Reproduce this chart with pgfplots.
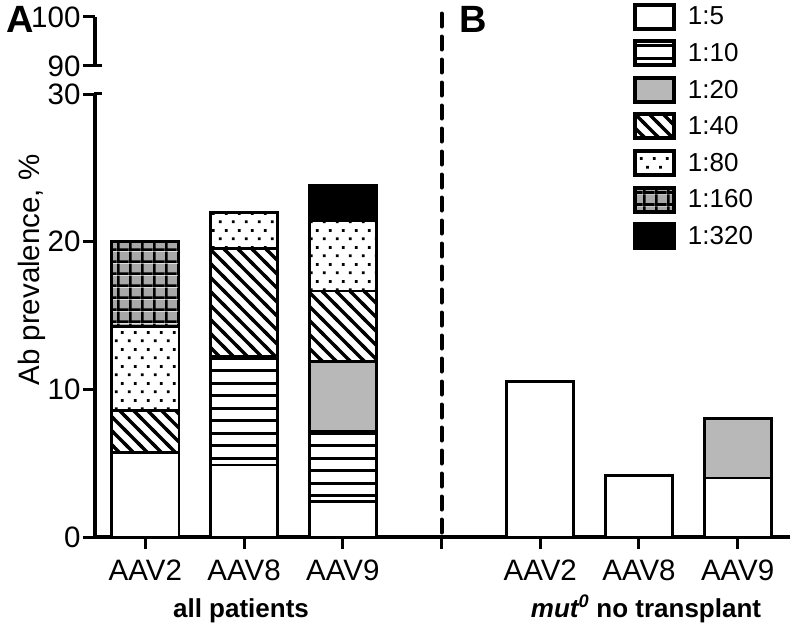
\documentclass[border=0pt]{standalone}
\usepackage{fontspec}
\setmainfont{Liberation Sans}
\usepackage{pgfplots}
\pgfplotsset{compat=1.18}
\usetikzlibrary{patterns}

\definecolor{lgray}{HTML}{B8B8B8}
\definecolor{ggray}{HTML}{A8A8A8}

% big hatch patterns, sizes in pt (1pt ~ 1px of the reference)
\pgfdeclarepatternformonly{hl}{\pgfpoint{-1pt}{0pt}}{\pgfpoint{13.5pt}{12.5pt}}{\pgfpoint{12.5pt}{12.5pt}}{%
  \pgfsetlinewidth{2.8pt}%
  \pgfpathmoveto{\pgfpoint{-1pt}{6.25pt}}\pgfpathlineto{\pgfpoint{13.5pt}{6.25pt}}\pgfusepath{stroke}}
\pgfdeclarepatternformonly{dl}{\pgfpoint{-1pt}{-1pt}}{\pgfpoint{15pt}{15pt}}{\pgfpoint{14pt}{14pt}}{%
  \pgfsetlinewidth{3.4pt}%
  \pgfpathmoveto{\pgfpoint{0pt}{14pt}}\pgfpathlineto{\pgfpoint{14pt}{0pt}}%
  \pgfpathmoveto{\pgfpoint{-2pt}{2pt}}\pgfpathlineto{\pgfpoint{2pt}{-2pt}}%
  \pgfpathmoveto{\pgfpoint{12pt}{16pt}}\pgfpathlineto{\pgfpoint{16pt}{12pt}}%
  \pgfusepath{stroke}}
\pgfdeclarepatternformonly{dt}{\pgfpointorigin}{\pgfpoint{12.5pt}{16.6pt}}{\pgfpoint{12.5pt}{16.6pt}}{%
  \pgfpathrectangle{\pgfpoint{2pt}{2pt}}{\pgfpoint{2.8pt}{2.8pt}}%
  \pgfpathrectangle{\pgfpoint{8.25pt}{10.3pt}}{\pgfpoint{2.8pt}{2.8pt}}%
  \pgfusepath{fill}}
\pgfdeclarepatterninherentlycolored{gr}{\pgfpointorigin}{\pgfpoint{11.7pt}{11.7pt}}{\pgfpoint{11.7pt}{11.7pt}}{%
  \pgfsetfillcolor{ggray}%
  \pgfpathrectangle{\pgfpointorigin}{\pgfpoint{11.7pt}{11.7pt}}\pgfusepath{fill}%
  \pgfsetfillcolor{black}%
  \pgfpathrectangle{\pgfpointorigin}{\pgfpoint{2.8pt}{11.7pt}}%
  \pgfpathrectangle{\pgfpointorigin}{\pgfpoint{11.7pt}{2.8pt}}%
  \pgfusepath{fill}}

\begin{document}
\begin{tikzpicture}
\pgfplotsset{
  brk/.style={
    width=695pt, scale only axis, xmin=-0.51, xmax=6.53,
    axis line style={line width=3.3pt},
    major tick length=12pt, tick align=outside,
    major tick style={line width=3pt,black},
    tick label style={font=\fontsize{29.5}{32}\selectfont},
    yticklabel style={xshift=1pt},
    /pgf/number format/assume math mode=true,
  },
  bs/.style={draw=black, line width=2.8pt},
}

% upper piece of the broken y axis
\begin{axis}[brk, at={(0pt,471pt)}, height=49pt,
  ymin=90, ymax=100, ytick={90,100},
  axis y line*=left, axis x line=none]
\addplot[draw=none] coordinates {(0,95)};
\end{axis}

% lower piece with the bars
\begin{axis}[brk, height=443pt,
  ymin=0, ymax=30, ytick={0,10,20,30},
  axis x line*=bottom, axis y line*=left,
  xtick={0,1,2,3,4,5,6},
  xticklabels={AAV2,AAV8,AAV9,,AAV2,AAV8,AAV9},
  xticklabel style={yshift=-7pt},
  ybar stacked, bar width=0.68, clip=false,
  legend image code/.code={\draw[#1, line width=4pt] (1pt,-12pt) rectangle (40pt,12pt);},
  legend style={at={(axis description cs:0.774,1.2065)}, anchor=north west,
    draw=none, fill=none, inner sep=0pt, outer sep=0pt,
    row sep=8.6pt, column sep=12pt,
    nodes={inner xsep=0pt, inner ysep=0pt},
    font=\fontsize{26}{30}\selectfont},
  legend cell align=left]
\addplot[bs, fill=white] coordinates {(0,5.71) (1,4.88) (2,2.38) (4,10.53) (5,4.15) (6,4.0)};
\addlegendentry{1:5}
\addplot[bs, fill=white, pattern=hl] coordinates {(0,0) (1,7.32) (2,4.76) (4,0) (5,0) (6,0)};
\addlegendentry{1:10}
\addplot[bs, fill=lgray] coordinates {(0,0) (1,0) (2,4.76) (4,0) (5,0) (6,4.0)};
\addlegendentry{1:20}
\addplot[bs, pattern=dl] coordinates {(0,2.86) (1,7.32) (2,4.76) (4,0) (5,0) (6,0)};
\addlegendentry{1:40}
\addplot[bs, pattern=dt] coordinates {(0,5.71) (1,2.44) (2,4.76) (4,0) (5,0) (6,0)};
\addlegendentry{1:80}
\addplot[bs, pattern=gr] coordinates {(0,5.71) (1,0) (2,0) (4,0) (5,0) (6,0)};
\addlegendentry{1:160}
\addplot[bs, fill=black] coordinates {(0,0) (1,0) (2,2.38) (4,0) (5,0) (6,0)};
\addlegendentry{1:320}
\draw[line width=4pt, line cap=round, dash pattern=on 13pt off 10pt]
  (axis cs:3,35.45) -- (axis cs:3,0);
\end{axis}

% axis break marks
\draw[line width=3pt] (-1pt,443pt) -- (7pt,443pt);
\draw[line width=3pt] (-1pt,471pt) -- (7pt,471pt);

\node[rotate=90, font=\fontsize{29.5}{32}\selectfont] at (-63pt,267pt) {Ab prevalence, \%};
\node[inner sep=0pt, font=\fontsize{38}{40}\selectfont\bfseries] at (-75pt,518pt) {A};
\node[inner sep=0pt, font=\fontsize{38}{40}\selectfont\bfseries] at (378pt,518pt) {B};
\node[anchor=base, font=\fontsize{26}{30}\selectfont\bfseries] at (146pt,-80pt) {all patients};
\node[anchor=base, font=\fontsize{26}{30}\selectfont\bfseries] at (551pt,-80pt) {\textit{mut\textsuperscript{0}} no transplant};

\pgfresetboundingbox
\path[use as bounding box] (-95pt,-90pt) rectangle (697pt,537pt);
\end{tikzpicture}
\end{document}
